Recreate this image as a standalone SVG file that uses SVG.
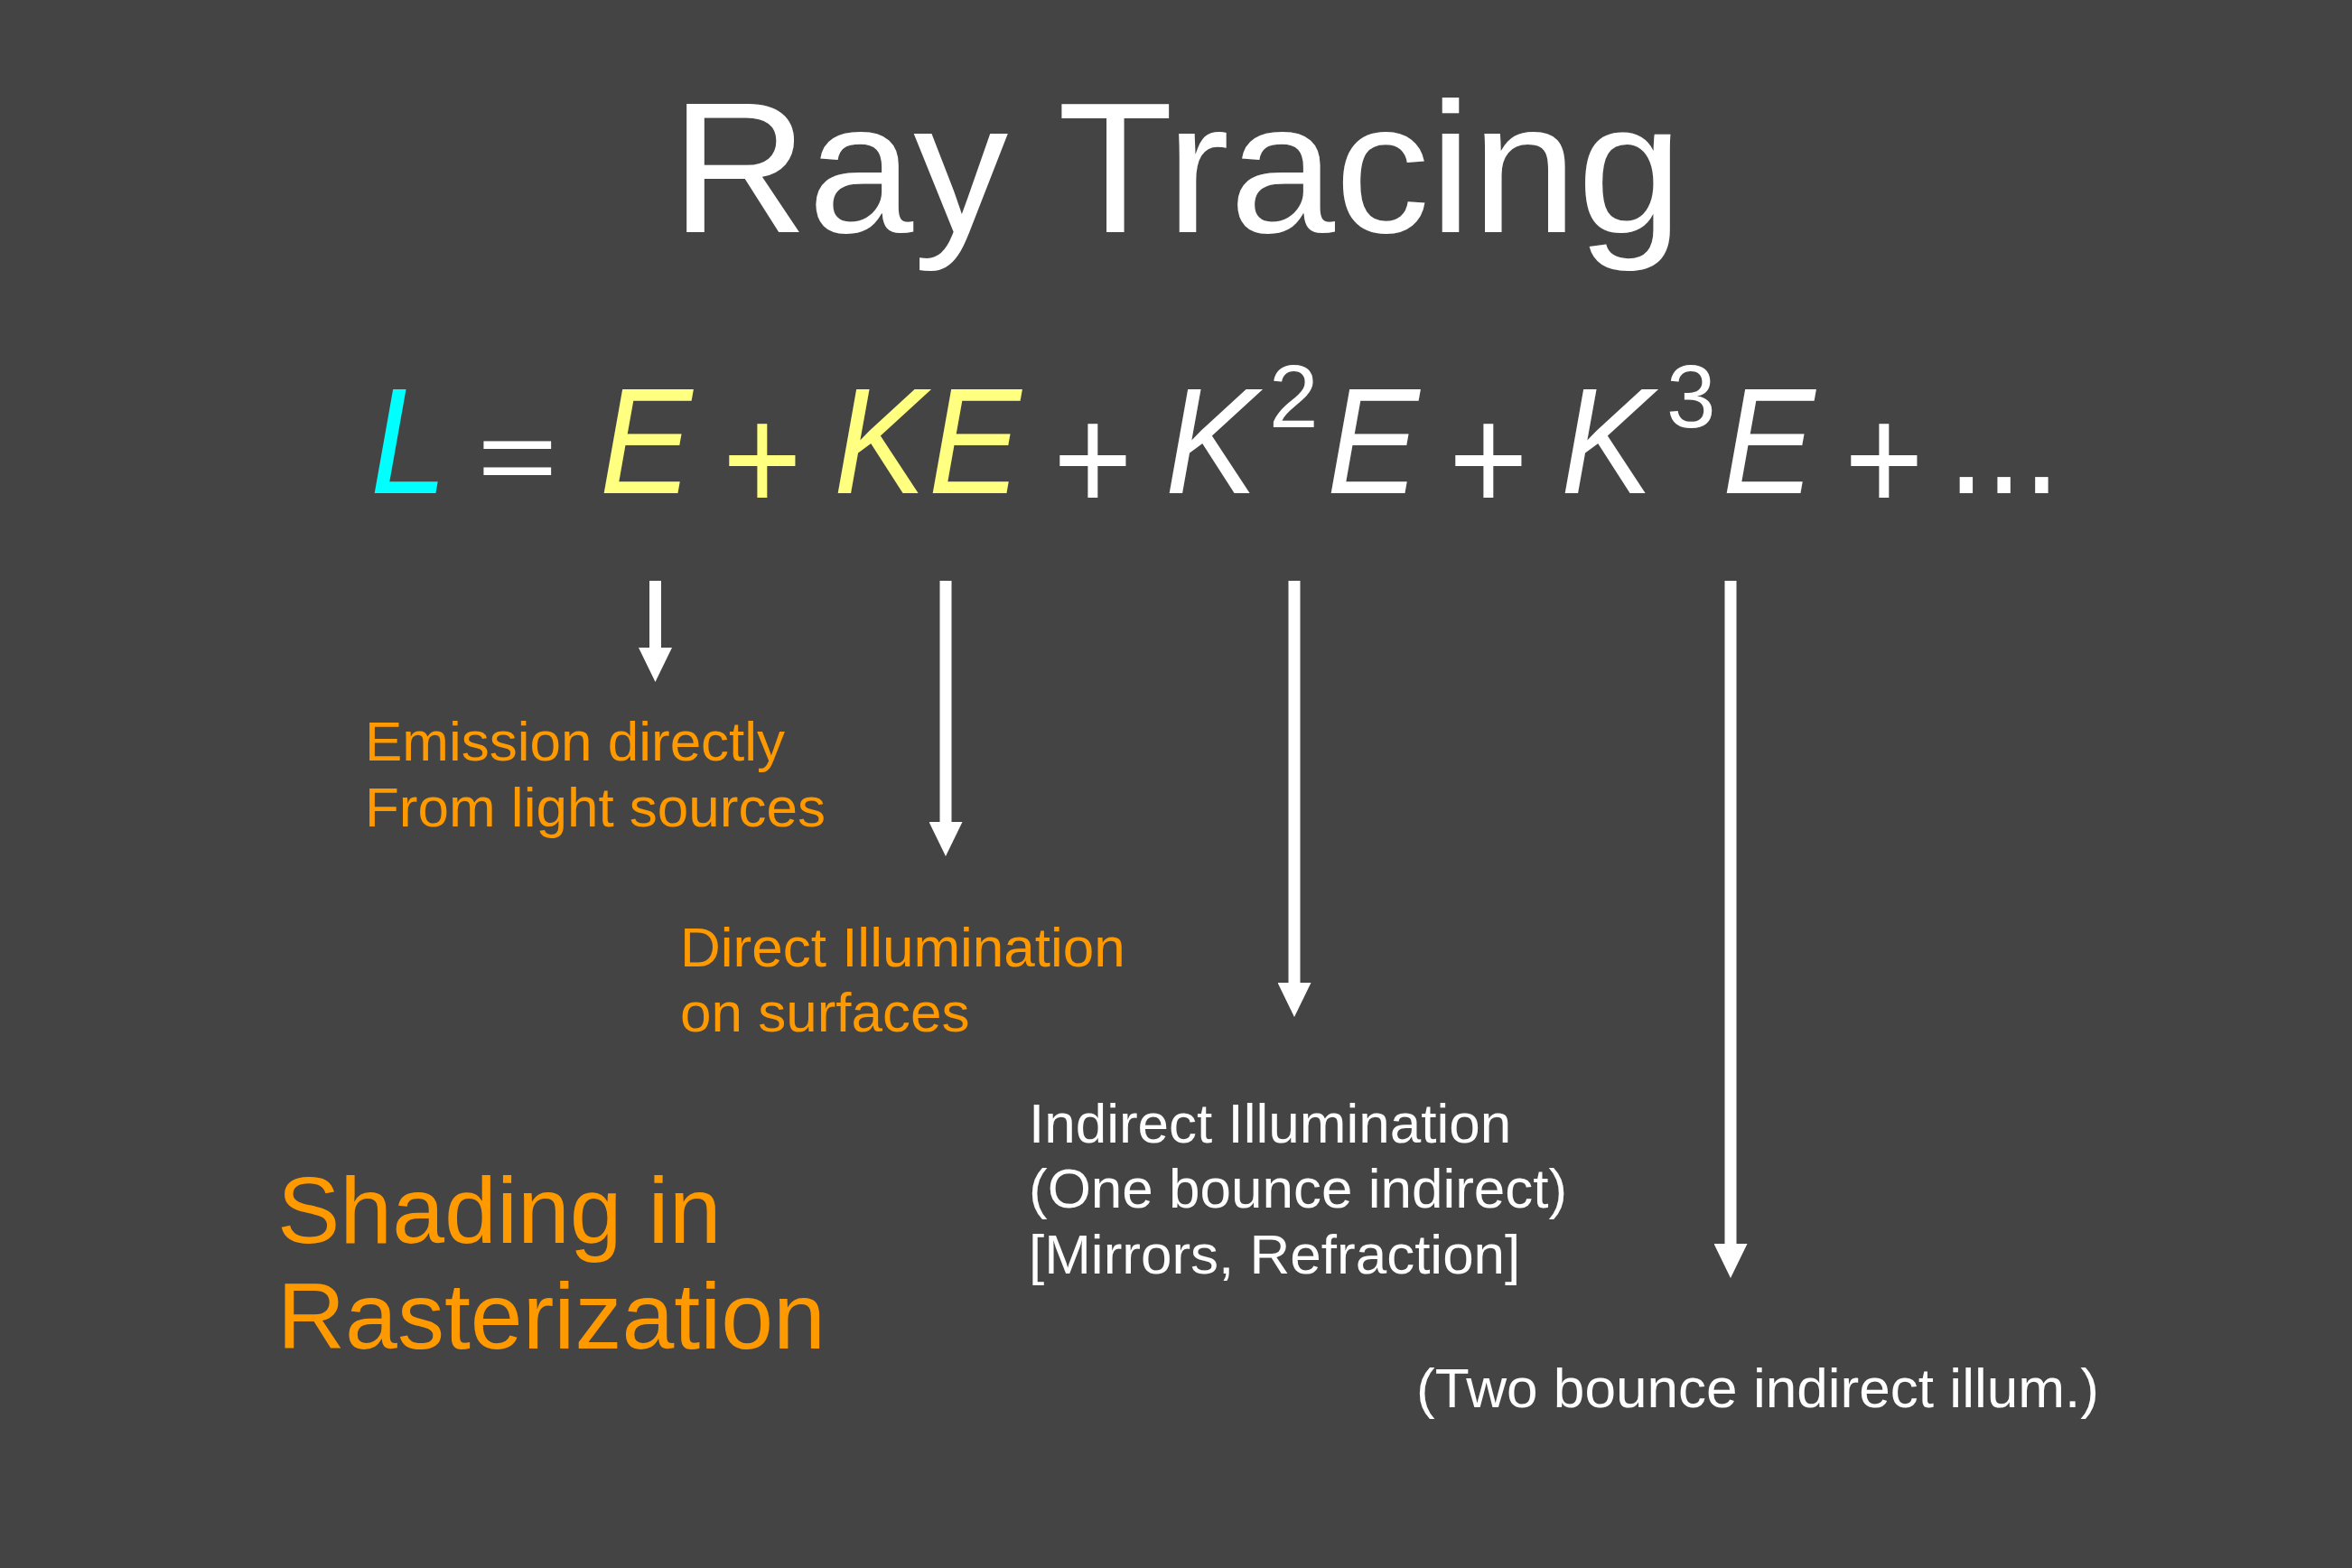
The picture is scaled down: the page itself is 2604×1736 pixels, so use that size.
<svg xmlns="http://www.w3.org/2000/svg" width="2604" height="1736" viewBox="0 0 2604 1736">
<style>
text{font-family:"Liberation Sans",Arial,Helvetica,sans-serif}
.title{font-size:206px;fill:#ffffff}
.eq{font-size:167px}
.it{font-style:italic}
.sup{font-size:98px;fill:#ffffff}
.cy{fill:#00ffff}
.ye{fill:#ffff80}
.wh{fill:#ffffff}
.lbl{font-size:62px}
.or{fill:#ff9900}
.big{font-size:104px;fill:#ff9900}
.arrow{stroke:#ffffff;stroke-width:13;fill:none}
</style>
<defs>
<marker id="head" viewBox="0 0 38 37" markerWidth="38" markerHeight="37" markerUnits="userSpaceOnUse" refX="0" refY="18.5" orient="auto">
<path d="M0,0 L38,18.5 L0,37 Z" fill="#ffffff"/>
</marker>
</defs>
<rect width="2604" height="1736" fill="#444444"/>
<g id="title"><text class="title" x="743" y="257" textLength="1120" lengthAdjust="spacingAndGlyphs">Ray Tracing</text></g>
<g id="equation">
<text class="eq it cy" transform="translate(410,546) scale(0.92,1)">L</text>
<text class="eq wh" transform="translate(528,546) scale(0.92,0.7)">=</text>
<text class="eq it ye" transform="translate(664,546) scale(0.92,1)">E</text>
<text class="eq ye" transform="translate(800,566) scale(0.9,1)">+</text>
<text class="eq it ye" transform="translate(923,546) scale(0.92,1)">K</text>
<text class="eq it ye" transform="translate(1028,546) scale(0.92,1)">E</text>
<text class="eq wh" transform="translate(1166,566) scale(0.9,1)">+</text>
<text class="eq it wh" transform="translate(1290,546) scale(0.92,1)">K</text>
<text class="sup" x="1405" y="473">2</text>
<text class="eq it wh" transform="translate(1469,546) scale(0.92,1)">E</text>
<text class="eq wh" transform="translate(1604,566) scale(0.9,1)">+</text>
<text class="eq it wh" transform="translate(1728,546) scale(0.92,1)">K</text>
<text class="sup" x="1845" y="473">3</text>
<text class="eq it wh" transform="translate(1907,546) scale(0.92,1)">E</text>
<text class="eq wh" transform="translate(2042,566) scale(0.9,1)">+</text>
<text class="eq wh" transform="translate(2156,546) scale(0.9,1)">...</text>
</g>
<g id="connectors">
<line class="arrow" x1="725.5" y1="643" x2="725.5" y2="717" marker-end="url(#head)"/>
<line class="arrow" x1="1047" y1="643" x2="1047" y2="910" marker-end="url(#head)"/>
<line class="arrow" x1="1433" y1="643" x2="1433" y2="1088" marker-end="url(#head)"/>
<line class="arrow" x1="1916" y1="643" x2="1916" y2="1377" marker-end="url(#head)"/>
</g>
<g id="label-emission">
<text class="lbl or" x="404" y="842">Emission directly</text>
<text class="lbl or" x="404" y="915">From light sources</text>
</g>
<g id="label-direct">
<text class="lbl or" x="753" y="1070">Direct Illumination</text>
<text class="lbl or" x="753" y="1142">on surfaces</text>
</g>
<g id="label-indirect">
<text class="lbl wh" x="1139" y="1265">Indirect Illumination</text>
<text class="lbl wh" x="1139" y="1337">(One bounce indirect)</text>
<text class="lbl wh" x="1139" y="1410">[Mirrors, Refraction]</text>
</g>
<g id="label-two-bounce">
<text class="lbl wh" x="1568" y="1558" textLength="756" lengthAdjust="spacingAndGlyphs">(Two bounce indirect illum.)</text>
</g>
<g id="label-shading">
<text class="big" x="307" y="1376">Shading in</text>
<text class="big" x="307" y="1493">Rasterization</text>
</g>
</svg>
